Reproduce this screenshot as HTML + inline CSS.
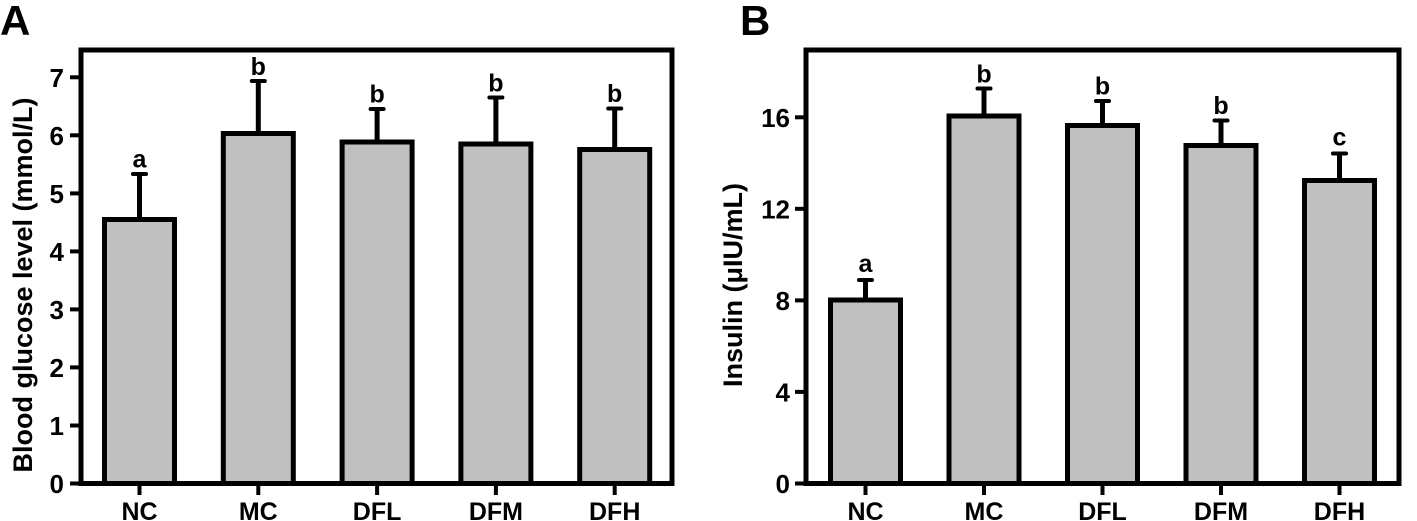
<!DOCTYPE html>
<html>
<head>
<meta charset="utf-8">
<style>
html,body{margin:0;padding:0;background:#fff;}
svg{display:block;}
text{font-family:"Liberation Sans",Arial,sans-serif;font-weight:bold;fill:#000;}
</style>
</head>
<body>
<svg width="1417" height="521" viewBox="0 0 1417 521" xmlns="http://www.w3.org/2000/svg">
<!-- Panel letters -->
<text x="0" y="35" font-size="42">A</text>
<text x="740" y="35" font-size="42">B</text>

<!-- ================= PANEL A ================= -->
<g stroke="#000" stroke-width="5" fill="#c0c0c0" stroke-linejoin="miter">
  <rect x="104.5" y="219.5" width="70" height="264"/>
  <rect x="223.3" y="133.5" width="70" height="350"/>
  <rect x="342.1" y="142" width="70" height="341.5"/>
  <rect x="460.9" y="144" width="70" height="339.5"/>
  <rect x="579.7" y="149.5" width="70" height="334"/>
</g>
<!-- error bars A -->
<g stroke="#000" stroke-width="5">
  <line x1="139.5" y1="219.5" x2="139.5" y2="173.5"/>
  <line x1="258.3" y1="133.5" x2="258.3" y2="80.5"/>
  <line x1="377.1" y1="142" x2="377.1" y2="108.5"/>
  <line x1="495.9" y1="144" x2="495.9" y2="97"/>
  <line x1="614.7" y1="149.5" x2="614.7" y2="108"/>
</g>
<g stroke="#000" stroke-width="4" stroke-linecap="round">
  <line x1="133" y1="174" x2="146" y2="174"/>
  <line x1="251.8" y1="81" x2="264.8" y2="81"/>
  <line x1="370.6" y1="109" x2="383.6" y2="109"/>
  <line x1="489.4" y1="97.5" x2="502.4" y2="97.5"/>
  <line x1="608.2" y1="108.5" x2="621.2" y2="108.5"/>
</g>
<!-- frame A -->
<rect x="81" y="50" width="591" height="433.5" fill="none" stroke="#000" stroke-width="5"/>
<!-- y ticks A -->
<g stroke="#000" stroke-width="4">
  <line x1="70" y1="483.5" x2="81" y2="483.5"/>
  <line x1="70" y1="425.5" x2="81" y2="425.5"/>
  <line x1="70" y1="367.4" x2="81" y2="367.4"/>
  <line x1="70" y1="309.4" x2="81" y2="309.4"/>
  <line x1="70" y1="251.4" x2="81" y2="251.4"/>
  <line x1="70" y1="193.4" x2="81" y2="193.4"/>
  <line x1="70" y1="135.3" x2="81" y2="135.3"/>
  <line x1="70" y1="77.3" x2="81" y2="77.3"/>
</g>
<!-- x ticks A -->
<g stroke="#000" stroke-width="4">
  <line x1="139.5" y1="483.5" x2="139.5" y2="495"/>
  <line x1="258.3" y1="483.5" x2="258.3" y2="495"/>
  <line x1="377.1" y1="483.5" x2="377.1" y2="495"/>
  <line x1="495.9" y1="483.5" x2="495.9" y2="495"/>
  <line x1="614.7" y1="483.5" x2="614.7" y2="495"/>
</g>
<g font-size="26" text-anchor="end">
  <text x="64" y="493">0</text>
  <text x="64" y="435">1</text>
  <text x="64" y="377">2</text>
  <text x="64" y="319">3</text>
  <text x="64" y="261">4</text>
  <text x="64" y="203">5</text>
  <text x="64" y="145">6</text>
  <text x="64" y="87">7</text>
</g>
<g font-size="25" text-anchor="middle">
  <text x="139.5" y="520">NC</text>
  <text x="258.3" y="520">MC</text>
  <text x="377.1" y="520">DFL</text>
  <text x="495.9" y="520">DFM</text>
  <text x="614.7" y="520">DFH</text>
</g>
<g font-size="25" text-anchor="middle">
  <text x="139.5" y="167.5">a</text>
  <text x="258.3" y="75">b</text>
  <text x="377.1" y="102.5">b</text>
  <text x="495.9" y="91.5">b</text>
  <text x="614.7" y="102">b</text>
</g>
<text transform="translate(32,285) rotate(-90)" font-size="27" text-anchor="middle">Blood glucose level (mmol/L)</text>

<!-- ================= PANEL B ================= -->
<g stroke="#000" stroke-width="5" fill="#c0c0c0">
  <rect x="830.5" y="300" width="70" height="183.5"/>
  <rect x="949" y="116" width="70" height="367.5"/>
  <rect x="1067.5" y="125.5" width="70" height="358"/>
  <rect x="1186" y="145.5" width="70" height="338"/>
  <rect x="1304.5" y="180.5" width="70" height="303"/>
</g>
<g stroke="#000" stroke-width="5">
  <line x1="865.5" y1="300" x2="865.5" y2="279.5"/>
  <line x1="984" y1="116" x2="984" y2="88"/>
  <line x1="1102.5" y1="125.5" x2="1102.5" y2="100.5"/>
  <line x1="1221" y1="145.5" x2="1221" y2="120"/>
  <line x1="1339.5" y1="180.5" x2="1339.5" y2="153"/>
</g>
<g stroke="#000" stroke-width="4" stroke-linecap="round">
  <line x1="859" y1="280" x2="872" y2="280"/>
  <line x1="977.5" y1="88.5" x2="990.5" y2="88.5"/>
  <line x1="1096" y1="101" x2="1109" y2="101"/>
  <line x1="1214.5" y1="120.5" x2="1227.5" y2="120.5"/>
  <line x1="1333" y1="153.5" x2="1346" y2="153.5"/>
</g>
<rect x="806" y="50" width="593" height="433.5" fill="none" stroke="#000" stroke-width="5"/>
<g stroke="#000" stroke-width="4">
  <line x1="795" y1="483.5" x2="806" y2="483.5"/>
  <line x1="795" y1="391.9" x2="806" y2="391.9"/>
  <line x1="795" y1="300.4" x2="806" y2="300.4"/>
  <line x1="795" y1="208.8" x2="806" y2="208.8"/>
  <line x1="795" y1="117.3" x2="806" y2="117.3"/>
</g>
<g stroke="#000" stroke-width="4">
  <line x1="865.5" y1="483.5" x2="865.5" y2="495"/>
  <line x1="984" y1="483.5" x2="984" y2="495"/>
  <line x1="1102.5" y1="483.5" x2="1102.5" y2="495"/>
  <line x1="1221" y1="483.5" x2="1221" y2="495"/>
  <line x1="1339.5" y1="483.5" x2="1339.5" y2="495"/>
</g>
<g font-size="26" text-anchor="end">
  <text x="790" y="493">0</text>
  <text x="790" y="401.4">4</text>
  <text x="790" y="310">8</text>
  <text x="790" y="218.3">12</text>
  <text x="790" y="126.8">16</text>
</g>
<g font-size="25" text-anchor="middle">
  <text x="865.5" y="520">NC</text>
  <text x="984" y="520">MC</text>
  <text x="1102.5" y="520">DFL</text>
  <text x="1221" y="520">DFM</text>
  <text x="1339.5" y="520">DFH</text>
</g>
<g font-size="25" text-anchor="middle">
  <text x="865.5" y="272">a</text>
  <text x="984" y="82.5">b</text>
  <text x="1102.5" y="94.5">b</text>
  <text x="1221" y="114">b</text>
  <text x="1339.5" y="145.5">c</text>
</g>
<text transform="translate(742,285) rotate(-90)" font-size="27" text-anchor="middle">Insulin (μIU/mL)</text>
</svg>
</body>
</html>
